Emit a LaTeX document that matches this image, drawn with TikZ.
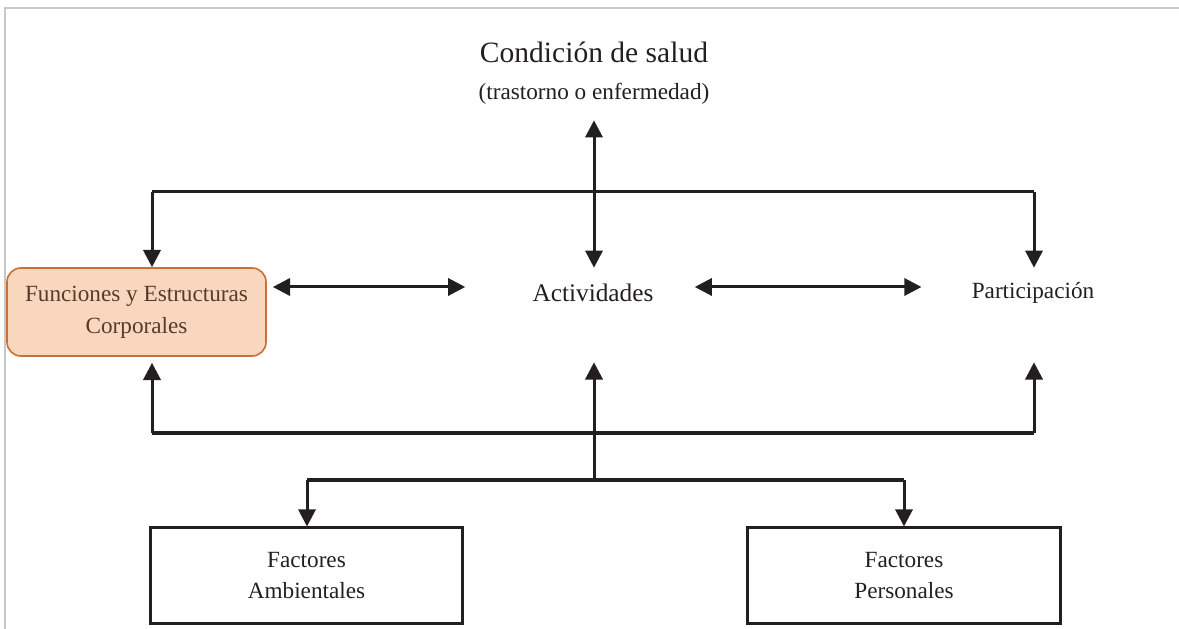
\documentclass[tikz,border=0pt]{standalone}
\usepackage{fontspec}
\setmainfont{Liberation Serif}
\usepackage{xcolor}
\definecolor{icfink}{RGB}{35,31,32}
\definecolor{icfpeach}{RGB}{249,214,190}
\definecolor{icfrust}{RGB}{198,112,58}
\definecolor{icfbrown}{RGB}{88,58,42}
\definecolor{icfframe}{RGB}{200,200,200}
\usepackage{tikz}
\usetikzlibrary{positioning, arrows.meta, calc}

\begin{document}
\begin{tikzpicture}[
    x=0.025cm, y=-0.025cm,
    rail/.style={draw=icfink, line width=0.075cm},
    link/.style={rail, -{Triangle[length=0.43cm, width=0.43cm]}},
    dbl/.style={rail, {Triangle[length=0.43cm, width=0.43cm]}-{Triangle[length=0.43cm, width=0.43cm]}},
    term/.style={font=\fontsize{16.5}{22.5}\selectfont, text=icfink, align=center, inner sep=0pt},
    factor/.style={term, draw=icfink, line width=0.075cm, minimum width=7.8cm, minimum height=2.375cm},
    bodybox/.style={term, text=icfbrown, draw=icfrust, fill=icfpeach, line width=0.04cm,
      rounded corners=0.35cm, minimum width=6.475cm, minimum height=2.2cm},
  ]
    \useasboundingbox (0,0) rectangle (1179,629);

    % marco gris
    \draw[icfframe, line width=0.05cm] (5,629) -- (5,8) -- (1179,8);

    % Condicion de salud
    \node[term, font=\fontsize{21}{25}\selectfont, anchor=base] (salud) at (594,63) {Condición de salud};
    \node[term, anchor=base, text depth=0.5cm] (saludsub) at (594,100) {(trastorno o enfermedad)};

    % fila central
    \node[bodybox] (fun) at (136.5,312) {Funciones y Estructuras\\Corporales};
    \node[term, font=\fontsize{18}{22}\selectfont, anchor=base, text height=0.75cm, text depth=0pt] (act) at (593,302) {Actividades};
    \node[term, anchor=base, text height=0.775cm, text depth=0.175cm] (part) at (1033,299) {Participación};

    % factores contextuales
    \node[factor] (ambient) at (306.5,575.5) {Factores\\Ambientales};
    \node[factor] (personal) at (904,575.5) {Factores\\Personales};

    % puntos de las barras
    \coordinate (topL) at (152,192);
    \coordinate (topR) at (1034,192);
    \coordinate (botL) at (152,433);
    \coordinate (botR) at (1034,433);
    \coordinate (hub)  at (594,480);
    \coordinate (hubL) at (307,480);
    \coordinate (hubR) at (904,480);

    % salud <-> actividades
    \draw[dbl, shorten >=0.1cm] (saludsub.south) -- (saludsub.south |- act.north);

    % barra superior
    \draw[rail] (topL) -- (topR);
    \draw[link] (topL) -- (topL |- fun.north);
    \draw[link] (topR) -- (topR |- part.north);

    % flechas horizontales
    \draw[dbl, shorten <=0.15cm, shorten >=1.675cm] (fun.east |- act.west) -- (act.west);
    \draw[dbl, shorten <=1.025cm, shorten >=1.25cm] (act.east) -- (act.east -| part.west);

    % barra inferior
    \draw[rail] (botL) -- (botR);
    \draw[link, shorten >=0.15cm] (botL) -- (botL |- fun.south);
    \draw[link, shorten >=1.4cm] (botR) -- (botR |- part.south);

    % factores -> actividades
    \draw[link, shorten >=1.5cm] (hub) -- (hub |- act.south);
    \draw[rail] (hubL) -- (hubR);
    \draw[link] (hubL) -- (hubL |- ambient.north);
    \draw[link] (hubR) -- (hubR |- personal.north);
  \end{tikzpicture}
\end{document}
